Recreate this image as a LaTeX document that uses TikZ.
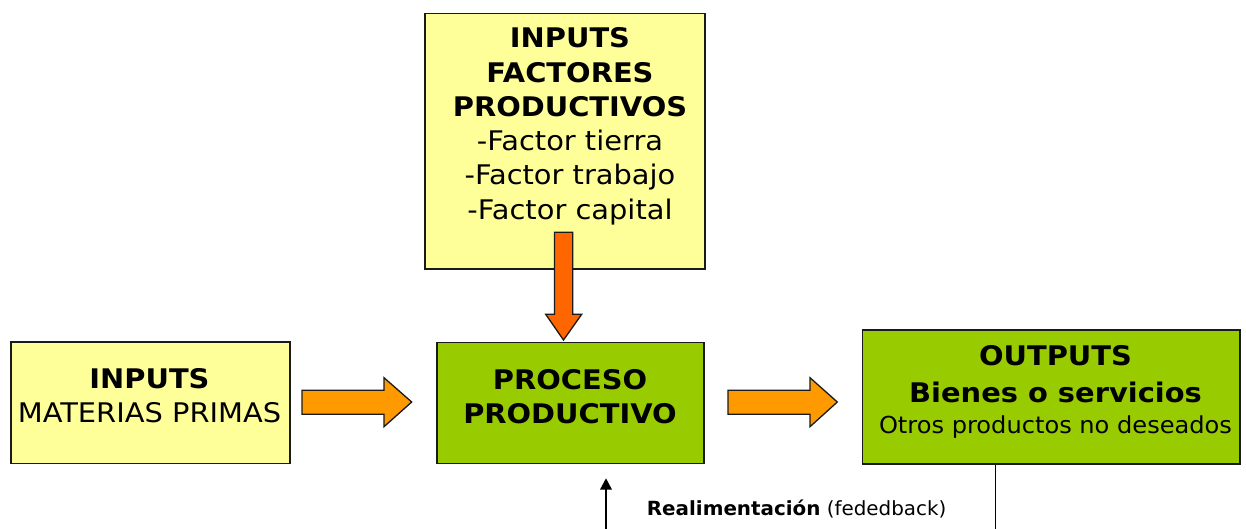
\documentclass[tikz,border=0pt]{standalone}
\usepackage{fontspec}
\setmainfont[FakeStretch=1.07]{DejaVu Sans}
\newfontfamily\smallfam[FakeStretch=1.03]{DejaVu Sans}
\newfontfamily\labelfam[FakeStretch=1.02]{DejaVu Sans}
\usetikzlibrary{arrows.meta}
\definecolor{boxyellow}{HTML}{FFFF99}
\definecolor{boxgreen}{HTML}{99CC00}
\definecolor{arrorange}{HTML}{FF9900}
\definecolor{arrred}{HTML}{FF6600}
\definecolor{edgecol}{HTML}{1A1A1A}
\begin{document}
\begin{tikzpicture}[x=1pt,y=-1pt,
  box/.style={draw=edgecol, line width=1.6pt, inner sep=0pt, anchor=north west},
  ybox/.style={box, fill=boxyellow},
  gbox/.style={box, fill=boxgreen},
  boxtext/.style={inner sep=0pt, anchor=north, align=center, font=\fontsize{27}{34.3}\selectfont},
  blockarrow/.style={draw=edgecol, line width=1.3pt, line join=miter},
  feedline/.style={draw=black, line width=1.3pt},
]
\useasboundingbox (0,0) rectangle (1246,528);
% boxes
\node[ybox, minimum width=280pt, minimum height=255.6pt] (factores) at (424,12.7) {};
\node[ybox, minimum width=279.3pt, minimum height=121.7pt] (materias) at (10,341) {};
\node[gbox, minimum width=267.3pt, minimum height=121pt] (proceso) at (436,341.7) {};
\node[gbox, minimum width=377.6pt, minimum height=134pt] (outputs) at (861.7,329.3) {};
% texts
\node[boxtext] (factorestext) at (570,27.5) {\textbf{INPUTS}\\\textbf{FACTORES}\\\textbf{PRODUCTIVOS}\\-Factor tierra\\-Factor trabajo\\-Factor capital};
\node[boxtext] (materiastext) at (149.5,368.2) {\textbf{INPUTS}\\MATERIAS PRIMAS};
\node[boxtext] (procesotext) at (570,368.8) {\textbf{PROCESO}\\\textbf{PRODUCTIVO}};
\node[boxtext] (outputstext) at (1055.5,345.2) {\textbf{OUTPUTS}\\[2.4pt]\textbf{Bienes o servicios}};
\node[anchor=base, inner sep=0pt, font=\smallfam\fontsize{23.4}{26}\selectfont] (outputsnote) at (1055.5,433.3) {Otros productos no deseados};
% block arrows
\draw[blockarrow, fill=arrorange] (302,390.3) -- (384,390.3) -- (384,377.7) -- (411.7,402) -- (384,426.7) -- (384,414.3) -- (302,414.3) -- cycle;
\draw[blockarrow, fill=arrorange] (728,390.3) -- (810,390.3) -- (810,377.7) -- (837.3,402) -- (810,426.7) -- (810,414.3) -- (728,414.3) -- cycle;
\draw[blockarrow, fill=arrred] (554.5,232.3) -- (572.7,232.3) -- (572.7,314.3) -- (581.7,314.3) -- (563.5,340) -- (545.7,314.3) -- (554.5,314.3) -- cycle;
% feedback
\coordinate (fbright) at (995.7,532);
\coordinate (fbleft) at (606,532);
\draw[feedline] (outputs.south -| fbright) -- (fbright);
\draw[feedline, -{Triangle[length=11.3pt,width=11.7pt]}, shorten >=14pt] (fbleft) -- (fbleft |- proceso.south);
\node[anchor=base west, inner sep=0pt, font=\labelfam\fontsize{19.5}{22}\selectfont] (fblabel) at (646.7,515) {\textbf{Realimentación} (fededback)};
\end{tikzpicture}
\end{document}
